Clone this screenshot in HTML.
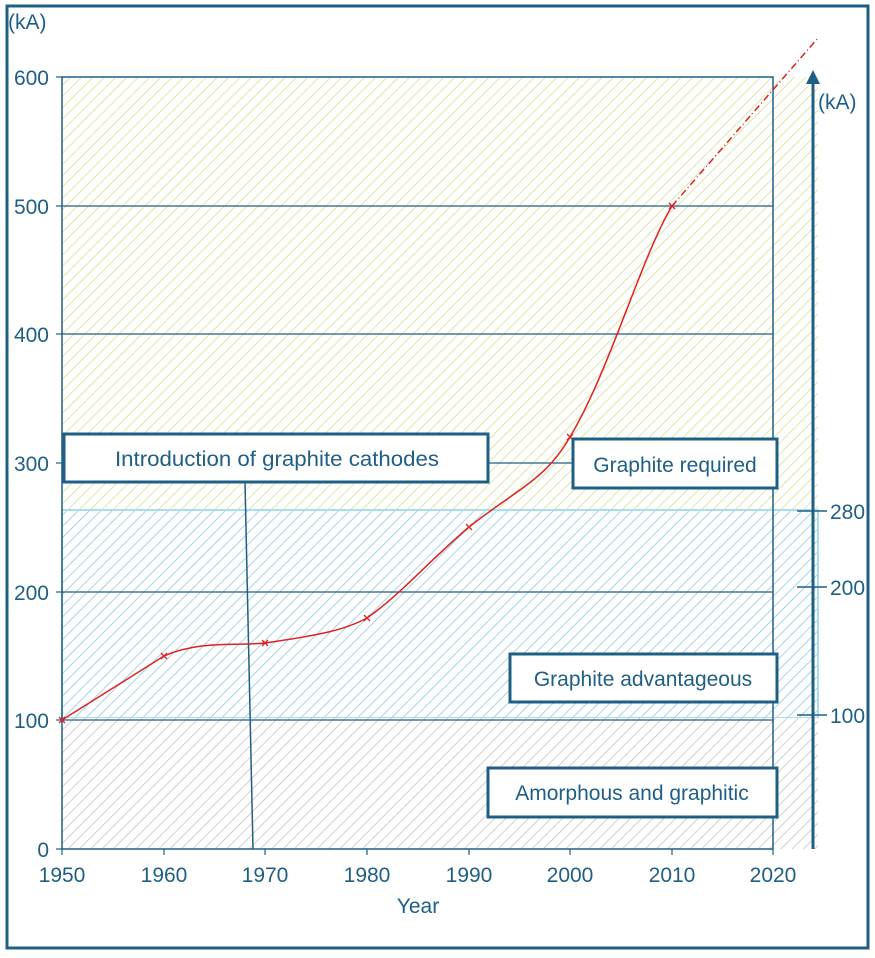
<!DOCTYPE html>
<html><head><style>body{margin:0;background:#fff}</style></head><body>
<svg width="875" height="953" xmlns="http://www.w3.org/2000/svg" font-family="Liberation Sans, sans-serif">
<defs>
<pattern id="py" width="8" height="8" patternUnits="userSpaceOnUse" patternTransform="rotate(45)"><rect width="8" height="8" fill="#fff"/><line x1="0" y1="0" x2="0" y2="8" stroke="#d4dc80" stroke-width="1.4"/></pattern>
<pattern id="pb" width="8" height="8" patternUnits="userSpaceOnUse" patternTransform="rotate(45)"><rect width="8" height="8" fill="#fff"/><line x1="0" y1="0" x2="0" y2="8" stroke="#80c4e0" stroke-width="1.4"/></pattern>
<pattern id="pg" width="8" height="8" patternUnits="userSpaceOnUse" patternTransform="rotate(45)"><rect width="8" height="8" fill="#fff"/><line x1="0" y1="0" x2="0" y2="8" stroke="#bdbdbd" stroke-width="1.4"/></pattern>
</defs>
<rect x="7" y="6" width="861" height="942" fill="none" stroke="#1f5f85" stroke-width="3"/>
<rect x="62" y="77" width="756" height="433" fill="url(#py)"/>
<rect x="62" y="510" width="756" height="208" fill="url(#pb)" stroke="#a8dcef" stroke-width="2"/>
<rect x="62" y="718" width="756" height="131" fill="url(#pg)"/>
<g stroke="#1f5f85" stroke-width="1.2" fill="none">
<line x1="62" y1="206" x2="773" y2="206"/><line x1="62" y1="334" x2="773" y2="334"/><line x1="62" y1="463" x2="773" y2="463"/><line x1="62" y1="592" x2="773" y2="592"/><line x1="62" y1="720" x2="773" y2="720"/>
<rect x="62" y="77" width="711" height="772" stroke-width="1.5"/>
<line x1="56" y1="77" x2="62" y2="77"/><line x1="56" y1="206" x2="62" y2="206"/><line x1="56" y1="334" x2="62" y2="334"/><line x1="56" y1="463" x2="62" y2="463"/><line x1="56" y1="592" x2="62" y2="592"/><line x1="56" y1="720" x2="62" y2="720"/><line x1="56" y1="849" x2="62" y2="849"/>
<line x1="62" y1="849" x2="62" y2="855"/><line x1="164" y1="849" x2="164" y2="855"/><line x1="265" y1="849" x2="265" y2="855"/><line x1="367" y1="849" x2="367" y2="855"/><line x1="469" y1="849" x2="469" y2="855"/><line x1="570" y1="849" x2="570" y2="855"/><line x1="672" y1="849" x2="672" y2="855"/><line x1="773" y1="849" x2="773" y2="855"/>
<line x1="245" y1="482" x2="253" y2="849" stroke-width="1.5"/>
<line x1="813" y1="849" x2="813" y2="82" stroke-width="3"/>
<line x1="797" y1="511" x2="827" y2="511" stroke-width="1.5"/><line x1="797" y1="587" x2="827" y2="587" stroke-width="1.5"/><line x1="797" y1="715" x2="827" y2="715" stroke-width="1.5"/>
</g>
<polygon points="806,84 820,84 813,70" fill="#1f5f85"/>
<path d="M62,720 L164,656 C200,640 240,646 265,643 C320,635 345,630 367,618 C400,595 430,560 469,527 C520,487 545,480 570,437 C610,370 640,260 672,206" stroke="#e02020" stroke-width="1.5" fill="none"/>
<line x1="672" y1="206" x2="818" y2="38" stroke="#e02020" stroke-width="1.5" stroke-dasharray="7,3,1,3"/>
<g stroke="#e02020" stroke-width="1.3">
<path d="M59,717l6,6M65,717l-6,6M161,653l6,6M167,653l-6,6M262,640l6,6M268,640l-6,6M364,615l6,6M370,615l-6,6M466,524l6,6M472,524l-6,6M567,434l6,6M573,434l-6,6M669,203l6,6M675,203l-6,6"/>
</g>
<g fill="#fff" stroke="#1f5f85" stroke-width="3">
<rect x="64" y="434" width="424" height="48"/><rect x="573" y="439" width="204" height="49"/><rect x="510" y="654" width="267" height="48"/><rect x="488" y="768" width="289" height="49"/>
</g>
<g fill="#1f5f85" font-size="21">
<text x="277" y="466" text-anchor="middle" textLength="324" lengthAdjust="spacingAndGlyphs">Introduction of graphite cathodes</text>
<text x="675" y="472" text-anchor="middle">Graphite required</text>
<text x="643" y="686" text-anchor="middle">Graphite advantageous</text>
<text x="632" y="800" text-anchor="middle">Amorphous and graphitic</text>
</g>
<g fill="#1f5f85" font-size="21">
<text x="8" y="29">(kA)</text>
<text x="49" y="85" text-anchor="end">600</text><text x="49" y="214" text-anchor="end">500</text><text x="49" y="342" text-anchor="end">400</text><text x="49" y="471" text-anchor="end">300</text><text x="49" y="600" text-anchor="end">200</text><text x="49" y="728" text-anchor="end">100</text><text x="49" y="857" text-anchor="end">0</text>
<text x="62" y="882" text-anchor="middle">1950</text><text x="164" y="882" text-anchor="middle">1960</text><text x="265" y="882" text-anchor="middle">1970</text><text x="367" y="882" text-anchor="middle">1980</text><text x="469" y="882" text-anchor="middle">1990</text><text x="570" y="882" text-anchor="middle">2000</text><text x="672" y="882" text-anchor="middle">2010</text><text x="773" y="882" text-anchor="middle">2020</text>
<text x="418" y="913" text-anchor="middle">Year</text>
<text x="818" y="109">(kA)</text>
<text x="830" y="519">280</text><text x="830" y="595">200</text><text x="830" y="723">100</text>
</g>
</svg>
</body></html>
